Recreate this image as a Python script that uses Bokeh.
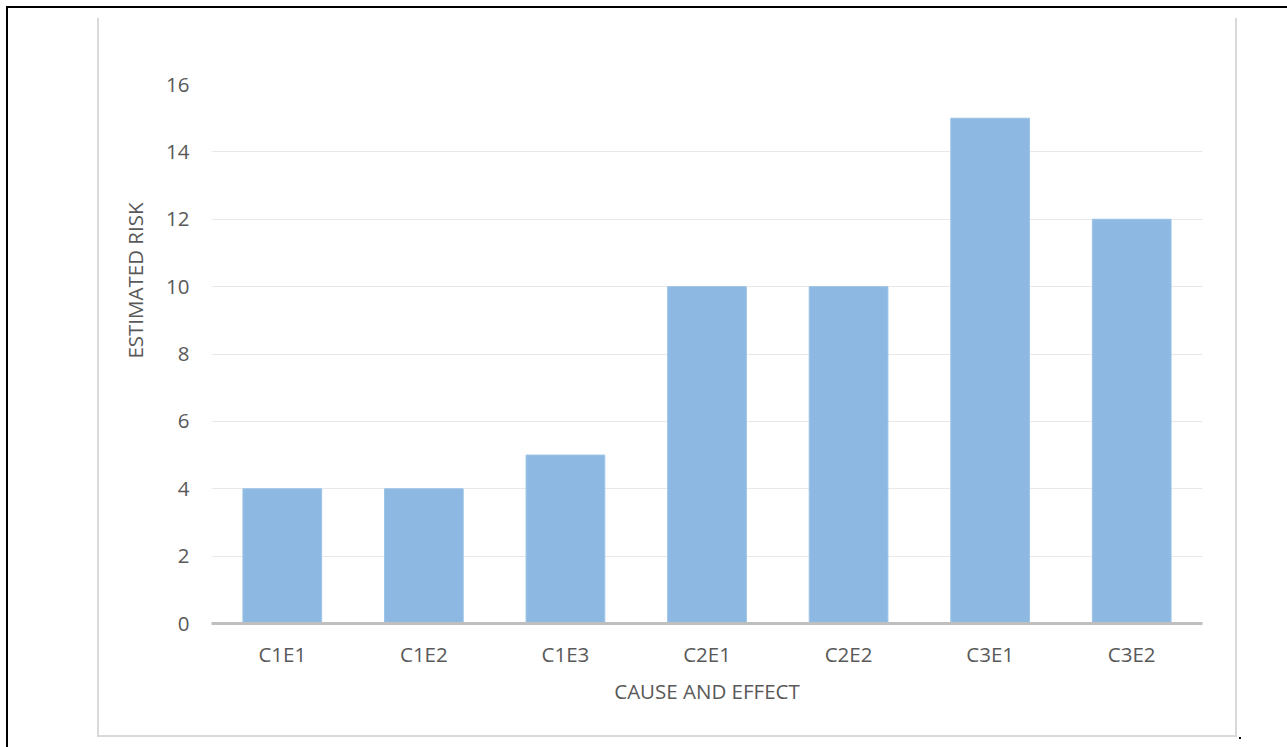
from bokeh.plotting import figure
from bokeh.models import FixedTicker, ColumnDataSource, Title
from bokeh.embed import file_html
from bokeh.resources import INLINE

categories = ["C1E1", "C1E2", "C1E3", "C2E1", "C2E2", "C3E1", "C3E2"]
risk = [4, 4, 5, 10, 10, 15, 12]
y_ticks = [0, 2, 4, 6, 8, 10, 12, 14, 16]
x_title = "CAUSE AND EFFECT"
y_title = "ESTIMATED RISK"

FONT = "Open Sans"
FS = "20.5px"
TXT = "#595959"

src = ColumnDataSource(dict(cat=categories, val=risk))

p = figure(
    x_range=categories, y_range=(0, 16),
    width=1287, height=747,
    min_border_left=211, min_border_right=85,
    min_border_top=84, min_border_bottom=124,
    output_backend="svg", toolbar_location=None,
    background_fill_color="white", border_fill_color=None,
)
p.outline_line_color = None
p.x_range.range_padding = 0

p.vbar(x="cat", top="val", width=0.556, source=src,
       fill_color="#8CB8E2", line_color="#9DC3E6", line_width=1)

# grid
p.xgrid.grid_line_color = None
p.ygrid.grid_line_color = "#e8e8e8"
p.ygrid.grid_line_width = 1

# y axis
p.yaxis.ticker = FixedTicker(ticks=y_ticks)
p.yaxis.axis_line_color = None
p.yaxis.major_tick_line_color = None
p.yaxis.minor_tick_line_color = None
p.yaxis.major_tick_out = 0
p.yaxis.major_tick_in = 0
p.yaxis.major_label_standoff = 22
p.yaxis.major_label_text_font = FONT
p.yaxis.major_label_text_font_size = FS
p.yaxis.major_label_text_color = TXT

# x axis
p.xaxis.axis_line_color = "#bfbfbf"
p.xaxis.axis_line_width = 3
p.xaxis.major_tick_line_color = None
p.xaxis.major_tick_out = 0
p.xaxis.major_tick_in = 0
p.xaxis.major_label_standoff = 16
p.xaxis.major_label_text_font = FONT
p.xaxis.major_label_text_font_size = FS
p.xaxis.major_label_text_color = TXT
p.xaxis.axis_label = x_title
p.xaxis.axis_label_standoff = 6
p.xaxis.axis_label_text_font = FONT
p.xaxis.axis_label_text_font_size = FS
p.xaxis.axis_label_text_font_style = "normal"
p.xaxis.axis_label_text_color = TXT

# y title, placed above centre as in the reference
p.add_layout(Title(text=y_title, align="right", offset=118, standoff=29,
                   text_font=FONT, text_font_size=FS,
                   text_font_style="normal", text_color=TXT), "left")

# page frame: black top/left edge, light gray inner box (left, right, bottom)
p.styles = {
    "background-color": "white",
    "background-image": ", ".join(["linear-gradient(#000,#000)"] * 2
                                  + ["linear-gradient(#d9d9d9,#d9d9d9)"] * 3
                                  + ["linear-gradient(#000,#000)"]),
    "background-position": "6px 6px, 6px 6px, 97px 18px, 1235px 18px, 97px 735px, 1239px 737px",
    "background-size": "1281px 2px, 2px 741px, 2px 719px, 2px 719px, 1140px 2px, 2px 2px",
    "background-repeat": "no-repeat",
}

open("out.html", "w").write(file_html(p, INLINE))
